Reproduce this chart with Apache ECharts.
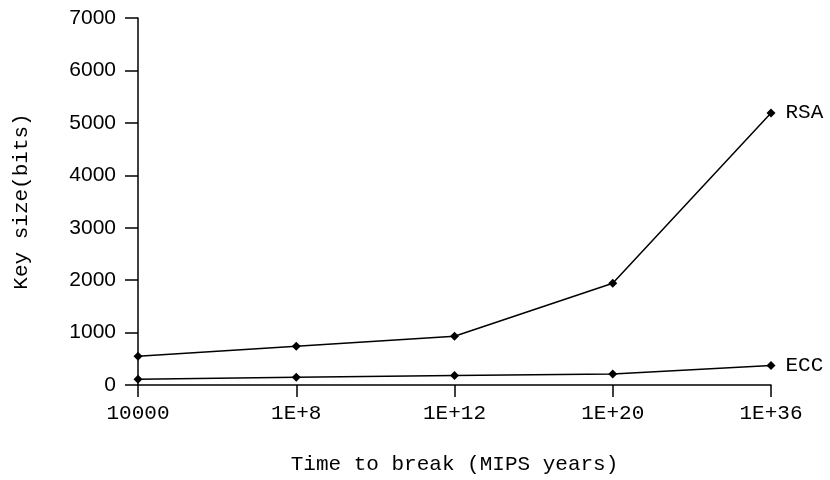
<!DOCTYPE html>
<html>
<head>
<meta charset="utf-8">
<script src="https://cdn.jsdelivr.net/npm/echarts@6/dist/echarts.min.js"></script>
<style>html,body{margin:0;padding:0;background:#fff}#c{width:830px;height:480px}</style>
</head>
<body>
<div id="c"></div>
<script>
const categories = ['10000', '1E+8', '1E+12', '1E+20', '1E+36'];
const rsa = [550, 740, 930, 1940, 5190];
const ecc = [110, 150, 180, 210, 370];
const yTicks = { min: 0, max: 7000, interval: 1000 };

const mono = 'Liberation Mono';
const FS = 21;
const chart = echarts.init(document.getElementById('c'), null, { renderer: 'canvas' });
function series(name, data) {
  return {
    name: name, type: 'line', data: data,
    symbol: 'diamond', symbolSize: 9,
    lineStyle: { color: '#000', width: 1.5 },
    itemStyle: { color: '#000' },
    animation: false,
    label: {
      show: true, position: 'right', distance: 10,
      fontFamily: mono, fontSize: FS, color: '#000',
      formatter: p => p.dataIndex === data.length - 1 ? name : ''
    }
  };
}
chart.setOption({
  backgroundColor: '#fff',
  animation: false,
  grid: { left: 138, right: 59, top: 18, bottom: 95 },
  xAxis: {
    type: 'category', data: categories, boundaryGap: false,
    name: 'Time to break (MIPS years)', nameLocation: 'middle', nameGap: 69,
    nameTextStyle: { fontFamily: mono, fontSize: FS, color: '#000' },
    axisLine: { lineStyle: { color: '#000', width: 1.5 } },
    axisTick: { show: true, length: 12, lineStyle: { color: '#000', width: 1.5 } },
    axisLabel: { fontFamily: mono, fontSize: FS, color: '#000', margin: 18 },
    splitLine: { show: false }
  },
  yAxis: {
    type: 'value', min: yTicks.min, max: yTicks.max, interval: yTicks.interval,
    name: 'Key size(bits)', nameLocation: 'middle', nameGap: 106,
    nameTextStyle: { fontFamily: mono, fontSize: FS, color: '#000' },
    axisLine: { show: true, lineStyle: { color: '#000', width: 1.5 } },
    axisTick: { show: true, length: 13, lineStyle: { color: '#000', width: 1.5 } },
    axisLabel: { fontFamily: 'Liberation Sans', fontSize: FS, color: '#000', margin: 22,
      formatter: v => String(v) },
    splitLine: { show: false }
  },
  series: [series('RSA', rsa), series('ECC', ecc)]
});
</script>
</body>
</html>
